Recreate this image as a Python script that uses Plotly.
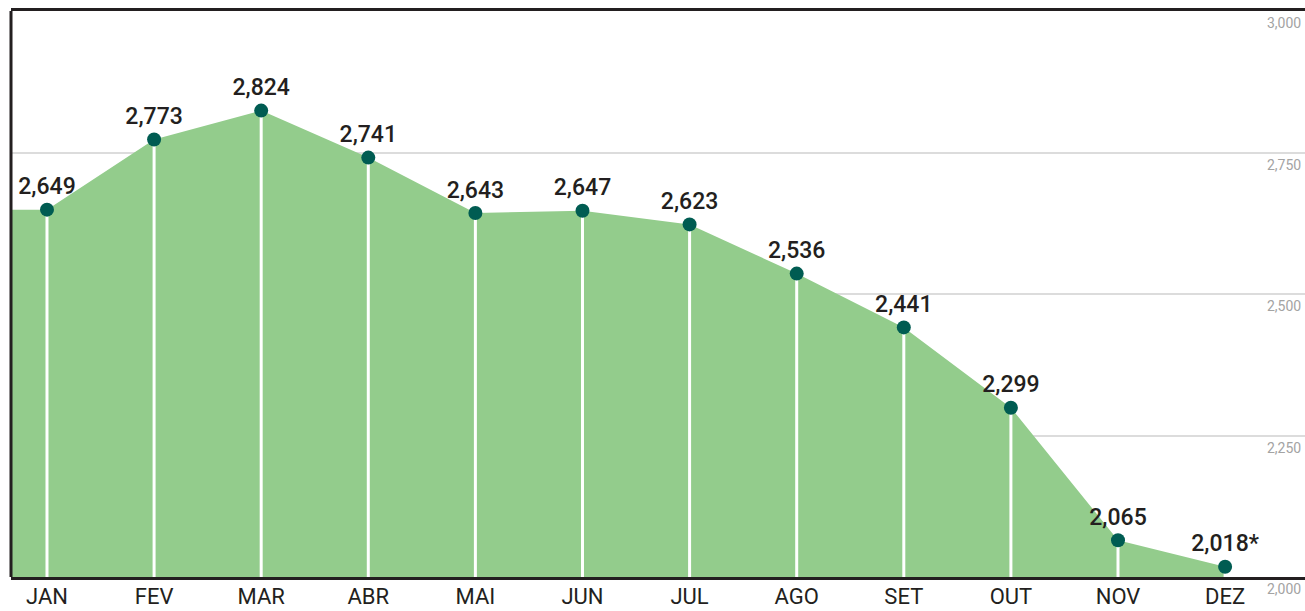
import plotly.graph_objects as go

months = ["JAN", "FEV", "MAR", "ABR", "MAI", "JUN", "JUL", "AGO", "SET", "OUT", "NOV", "DEZ"]
values = [2649, 2773, 2824, 2741, 2643, 2647, 2623, 2536, 2441, 2299, 2065, 2018]
labels = ["2,649", "2,773", "2,824", "2,741", "2,643", "2,647", "2,623", "2,536", "2,441", "2,299", "2,065", "2,018*"]
y_ticks = [2000, 2250, 2500, 2750, 3000]
y_ticktext = ["2,000", "2,250", "2,500", "2,750", "3,000"]

FONT = "Roboto, sans-serif"
X_RANGE = [-0.336, 11.746]
Y_RANGE = [2000, 3000]

xs = list(range(len(months)))

fig = go.Figure()

# green area, extended flat to the left edge of the plot
fig.add_trace(go.Scatter(
    x=[X_RANGE[0]] + xs, y=[values[0]] + values,
    mode="lines", line=dict(width=0, color="#93CC8C"),
    fill="tozeroy", fillcolor="#93CC8C", hoverinfo="skip", showlegend=False))

# white drop lines
lx, ly = [], []
for x, v in zip(xs, values):
    lx += [x, x, None]
    ly += [Y_RANGE[0], v, None]
fig.add_trace(go.Scatter(x=lx, y=ly, mode="lines",
                         line=dict(color="white", width=3),
                         hoverinfo="skip", showlegend=False))

# markers with labels
fig.add_trace(go.Scatter(
    x=xs, y=values, mode="markers+text", text=labels,
    textposition="top center",
    textfont=dict(family=FONT, size=23, color="#231F20", weight=500),
    marker=dict(size=14, color="#005C52", line=dict(width=0)),
    showlegend=False))

# y tick labels: right-aligned just below each gridline
annotations = [
    dict(x=1, xref="paper", y=v, yref="y", text=t, showarrow=False,
         xanchor="right", yanchor="top", yshift=-2, xshift=-2,
         font=dict(family=FONT, size=14, color="#A3A3A3"))
    for v, t in zip(y_ticks, y_ticktext)
]

fig.update_layout(
    width=1305, height=611,
    margin=dict(l=11, r=0, t=11, b=34),
    paper_bgcolor="white", plot_bgcolor="white",
    showlegend=False,
    xaxis=dict(range=X_RANGE, tickvals=xs, ticktext=months, automargin=False,
               showgrid=False, zeroline=False,
               showline=True, mirror=True, linecolor="#231F20", linewidth=3,
               ticks="", ticklabelstandoff=-2,
               tickfont=dict(family=FONT, size=22, color="#231F20")),
    yaxis=dict(range=Y_RANGE, side="right", tickvals=y_ticks, automargin=False,
               showticklabels=False,
               showgrid=True, gridcolor="#DCDCDC", gridwidth=2,
               zeroline=False, showline=False, ticks=""),
    annotations=annotations,
    shapes=[dict(type="line", xref="paper", yref="paper", x0=0, x1=0, y0=0, y1=1,
                 line=dict(color="#231F20", width=3))],
)

fig.write_html(
    "out.html",
    config={"displayModeBar": False},
    post_script="document.body.style.margin='0';document.body.style.overflow='hidden';",
)
